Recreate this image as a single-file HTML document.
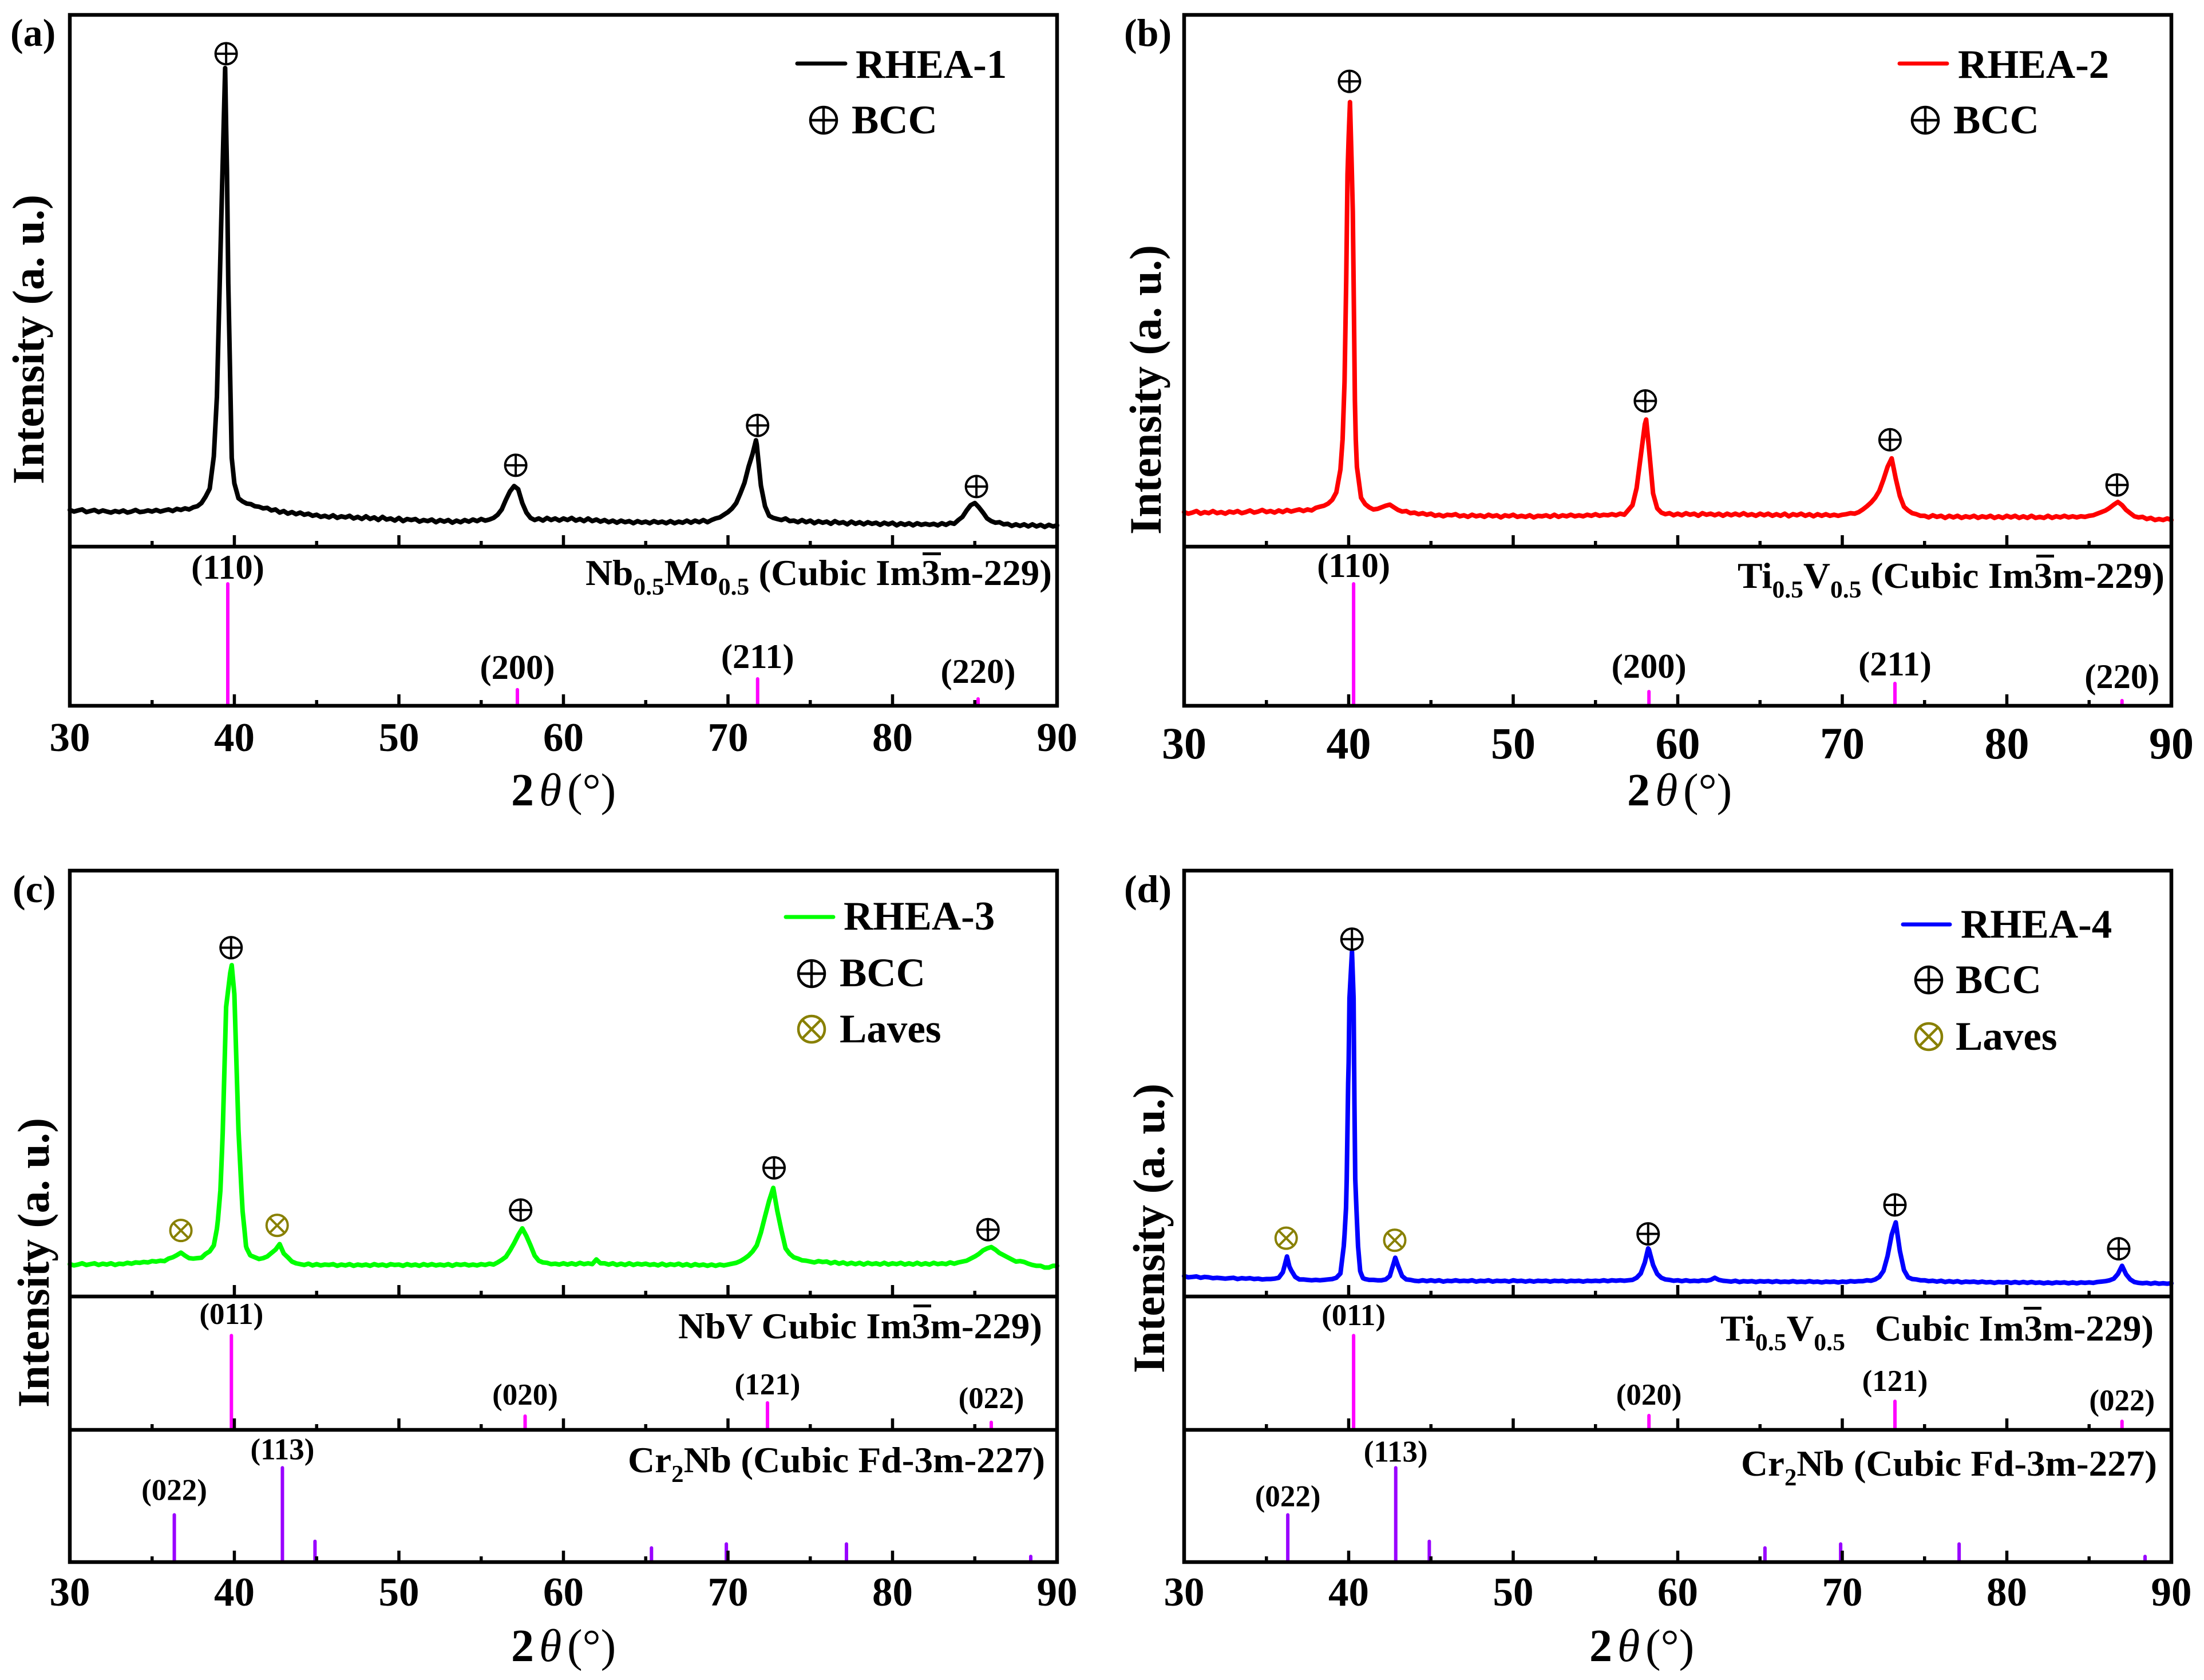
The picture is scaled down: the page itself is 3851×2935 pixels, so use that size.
<!DOCTYPE html>
<html lang="en">
<head>
<meta charset="utf-8">
<title>XRD patterns of RHEA-1 to RHEA-4</title>
<style>
html,body{margin:0;padding:0;background:#fff}
svg{display:block}
text{font-family:"Liberation Serif",serif;font-weight:bold;fill:#000}
</style>
</head>
<body>
<svg id="figure" xmlns="http://www.w3.org/2000/svg" width="3851" height="2935" viewBox="0 0 3851 2935">
  <rect x="0" y="0" width="3851" height="2935" fill="#fff"/>
  <g id="marks"></g>

  <text x="18" y="80" font-size="68">(a)</text>
  <text x="1964" y="80" font-size="68">(b)</text>
  <text x="22" y="1576" font-size="68">(c)</text>
  <text x="1964" y="1576" font-size="68">(d)</text>

  <text transform="translate(76,846) rotate(-90)" font-size="78" textLength="506" lengthAdjust="spacingAndGlyphs">Intensity (a. u.)</text>
  <text transform="translate(2028,934) rotate(-90)" font-size="78" textLength="506" lengthAdjust="spacingAndGlyphs">Intensity (a. u.)</text>
  <text transform="translate(85,2459) rotate(-90)" font-size="78" textLength="506" lengthAdjust="spacingAndGlyphs">Intensity (a. u.)</text>
  <text transform="translate(2034,2399) rotate(-90)" font-size="78" textLength="506" lengthAdjust="spacingAndGlyphs">Intensity (a. u.)</text>

  <text y="1407" font-size="80"><tspan x="893">2</tspan><tspan x="942" font-style="italic" font-weight="normal">θ</tspan><tspan x="991" font-weight="normal">(°)</tspan></text>
  <text y="1407" font-size="80"><tspan x="2843">2</tspan><tspan x="2892" font-style="italic" font-weight="normal">θ</tspan><tspan x="2941" font-weight="normal">(°)</tspan></text>
  <text y="2902" font-size="80"><tspan x="893">2</tspan><tspan x="942" font-style="italic" font-weight="normal">θ</tspan><tspan x="991" font-weight="normal">(°)</tspan></text>
  <text y="2902" font-size="80"><tspan x="2777">2</tspan><tspan x="2826" font-style="italic" font-weight="normal">θ</tspan><tspan x="2875" font-weight="normal">(°)</tspan></text>

  <g>
    <line x1="1393" y1="111" x2="1477" y2="111" stroke="#000" stroke-width="7" stroke-linecap="round"/>
    <text x="1495" y="136" font-size="71">RHEA-1</text>
    <text x="1488" y="233" font-size="71">BCC</text>
  </g>
  <g>
    <line x1="3319" y1="111" x2="3402" y2="111" stroke="#ff0000" stroke-width="7" stroke-linecap="round"/>
    <text x="3421" y="136" font-size="71">RHEA-2</text>
    <text x="3413" y="233" font-size="71">BCC</text>
  </g>
  <g>
    <line x1="1373" y1="1602" x2="1456" y2="1602" stroke="#00ff00" stroke-width="7" stroke-linecap="round"/>
    <text x="1474" y="1624" font-size="71">RHEA-3</text>
    <text x="1467" y="1723" font-size="71">BCC</text>
    <text x="1467" y="1821" font-size="71">Laves</text>
  </g>
  <g>
    <line x1="3325" y1="1615" x2="3407" y2="1615" stroke="#0000ff" stroke-width="7" stroke-linecap="round"/>
    <text x="3426" y="1638" font-size="71">RHEA-4</text>
    <text x="3417" y="1735" font-size="71">BCC</text>
    <text x="3417" y="1834" font-size="71">Laves</text>
  </g>

  <text x="1023" y="1022" font-size="63" textLength="815" lengthAdjust="spacingAndGlyphs">Nb<tspan font-size="42" dy="17">0.5</tspan><tspan dy="-17">Mo</tspan><tspan font-size="42" dy="17">0.5</tspan><tspan dy="-17"> (Cubic Im3m-229)</tspan></text>
  <rect x="1612" y="965" width="32" height="5" fill="#000"/>
  <text x="3036" y="1027" font-size="63" textLength="746" lengthAdjust="spacingAndGlyphs">Ti<tspan font-size="42" dy="17">0.5</tspan><tspan dy="-17">V</tspan><tspan font-size="42" dy="17">0.5</tspan><tspan dy="-17"> (Cubic Im3m-229)</tspan></text>
  <rect x="3558" y="969" width="31" height="5" fill="#000"/>
  <text x="1185" y="2338" font-size="64" textLength="636" lengthAdjust="spacingAndGlyphs">NbV Cubic Im3m-229)</text>
  <rect x="1596" y="2279" width="31" height="5" fill="#000"/>
  <text x="1097" y="2572" font-size="64" textLength="729" lengthAdjust="spacingAndGlyphs">Cr<tspan font-size="42" dy="17">2</tspan><tspan dy="-17">Nb (Cubic Fd-3m-227)</tspan></text>
  <text x="3006" y="2342" font-size="63" textLength="218" lengthAdjust="spacingAndGlyphs">Ti<tspan font-size="42" dy="17">0.5</tspan><tspan dy="-17">V</tspan><tspan font-size="42" dy="17">0.5</tspan></text>
  <text x="3276" y="2342" font-size="64" textLength="487" lengthAdjust="spacingAndGlyphs">Cubic Im3m-229)</text>
  <rect x="3536" y="2283" width="31" height="5" fill="#000"/>
  <text x="3042" y="2578" font-size="64" textLength="727" lengthAdjust="spacingAndGlyphs">Cr<tspan font-size="42" dy="17">2</tspan><tspan dy="-17">Nb (Cubic Fd-3m-227)</tspan></text>
</svg>

<script>
// Shared axis ticks
const majorTicks = [30, 40, 50, 60, 70, 80, 90];
const minorTicks = [35, 45, 55, 65, 75, 85];

// Shared 2-theta sampling (degrees); every series below has one reading per entry
const gridTheta = [
  30,30.25,30.5,30.75,31,31.25,31.5,31.75,32,32.25,32.5,32.75,
  33,33.25,33.5,33.75,34,34.25,34.5,34.75,35,35.25,35.5,35.75,
  36,36.25,36.5,36.75,37,37.25,37.5,37.75,38,38.25,38.5,38.75,
  39,39.25,39.5,39.75,40,40.25,40.5,40.75,41,41.25,41.5,41.75,
  42,42.25,42.5,42.75,43,43.25,43.5,43.75,44,44.25,44.5,44.75,
  45,45.25,45.5,45.75,46,46.25,46.5,46.75,47,47.25,47.5,47.75,
  48,48.25,48.5,48.75,49,49.25,49.5,49.75,50,50.25,50.5,50.75,
  51,51.25,51.5,51.75,52,52.25,52.5,52.75,53,53.25,53.5,53.75,
  54,54.25,54.5,54.75,55,55.25,55.5,55.75,56,56.25,56.5,56.75,
  57,57.25,57.5,57.75,58,58.25,58.5,58.75,59,59.25,59.5,59.75,
  60,60.25,60.5,60.75,61,61.25,61.5,61.75,62,62.25,62.5,62.75,
  63,63.25,63.5,63.75,64,64.25,64.5,64.75,65,65.25,65.5,65.75,
  66,66.25,66.5,66.75,67,67.25,67.5,67.75,68,68.25,68.5,68.75,
  69,69.25,69.5,69.75,70,70.25,70.5,70.75,71,71.25,71.5,71.75,
  72,72.25,72.5,72.75,73,73.25,73.5,73.75,74,74.25,74.5,74.75,
  75,75.25,75.5,75.75,76,76.25,76.5,76.75,77,77.25,77.5,77.75,
  78,78.25,78.5,78.75,79,79.25,79.5,79.75,80,80.25,80.5,80.75,
  81,81.25,81.5,81.75,82,82.25,82.5,82.75,83,83.25,83.5,83.75,
  84,84.25,84.5,84.75,85,85.25,85.5,85.75,86,86.25,86.5,86.75,
  87,87.25,87.5,87.75,88,88.25,88.5,88.75,89,89.25,89.5,89.75,
  90
];

// RHEA-1 intensity (% of the upper plot height)
const intensityA = [
  6.9,6.6,6.8,7.0,6.5,6.7,6.9,6.5,6.8,6.6,6.4,6.7,
  6.5,6.8,6.4,6.6,6.9,6.5,6.6,6.8,6.6,6.9,6.6,6.8,
  7.0,6.7,7.1,6.9,7.2,7.0,7.4,7.6,8.2,9.4,10.9,17,
  36,67,79,31,11.9,9.1,8.5,8.1,8.0,7.6,7.5,7.2,
  7.3,6.8,7.0,6.4,6.7,6.2,6.5,6.1,6.4,6.0,6.2,5.8,
  6.0,5.6,5.8,5.5,5.9,5.4,5.7,5.5,5.8,5.3,5.6,5.2,
  5.7,5.2,5.5,5.0,5.6,5.1,5.3,4.9,5.4,4.8,5.2,5.0,
  5.2,4.7,5.0,4.8,5.1,4.6,5.0,4.7,5.0,4.5,4.9,4.6,
  5.0,4.7,5.1,4.8,5.2,4.9,5.1,5.4,6.0,7.0,8.8,10.4,
  11.4,10.8,8.2,6.4,5.4,5.0,5.3,4.9,5.4,5.0,5.3,4.9,
  5.3,5.0,5.4,4.9,5.2,4.8,5.3,4.8,5.1,4.7,5.0,4.6,
  4.9,4.5,4.9,4.6,4.8,4.4,4.8,4.5,4.7,4.4,4.8,4.5,
  4.7,4.4,4.8,4.4,4.7,4.5,4.9,4.5,4.9,4.6,5.0,4.6,
  5.0,5.3,5.5,6.0,6.5,7.2,8.2,10,12,15,17.5,19.2,
  11.5,7.6,5.8,5.4,5.2,5.0,5.3,4.8,4.9,4.6,5.0,4.6,
  4.9,4.4,4.8,4.5,4.7,4.3,4.8,4.4,4.6,4.2,4.7,4.3,
  4.6,4.2,4.6,4.3,4.5,4.1,4.5,4.2,4.5,4.0,4.4,4.1,
  4.4,4.0,4.4,4.1,4.3,4.1,4.3,4.0,4.4,4.1,4.5,4.3,
  5.0,5.6,6.8,7.8,8.2,7.4,6.4,5.3,4.8,4.5,4.6,4.2,
  4.3,3.9,4.2,3.9,4.2,3.8,4.2,3.8,4.1,3.7,4.1,3.8,
  4.0
];
const detailThetaA = [38.94, 39.11, 39.44, 39.55, 39.63, 39.84, 71.7];
const detailIntensityA = [28.2, 49.5, 90, 70.7, 49.5, 16.7, 20];

// RHEA-2 intensity
const intensityB = [
  6.5,6.2,6.4,6.7,6.2,6.5,6.3,6.7,6.3,6.5,6.2,6.6,
  6.4,6.7,6.3,6.5,6.8,6.4,6.6,6.9,6.5,6.7,6.4,6.8,
  6.5,6.9,6.6,6.8,7.0,6.7,7.0,6.8,7.3,7.5,7.7,8.1,
  8.8,10.2,14.5,31,77,63,15,9.2,8.0,7.4,7.0,7.1,
  7.4,7.7,7.9,7.4,6.9,6.6,6.7,6.3,6.4,6.1,6.3,6.0,
  6.2,5.8,6.0,5.7,6.0,5.9,6.1,5.7,5.9,5.6,6.0,5.7,
  5.9,5.6,6.0,5.7,5.9,5.5,5.9,5.7,6.0,5.6,5.8,5.6,
  5.9,5.5,5.8,5.7,5.9,5.6,6.0,5.6,5.9,5.7,6.0,5.7,
  5.9,5.7,6.0,5.8,6.1,5.8,6.0,5.9,6.1,5.9,6.2,6.0,
  6.9,7.8,11,17,23,18.5,10,7.2,6.4,6.1,6.3,5.9,
  6.2,5.9,6.3,6.0,6.2,5.8,6.3,6.0,6.2,5.9,6.2,5.8,
  6.2,5.9,6.2,5.9,6.3,5.9,6.1,5.8,6.2,5.9,6.2,5.8,
  6.1,5.8,6.2,5.7,6.1,5.9,6.2,5.8,6.1,5.7,6.1,5.8,
  6.1,5.8,6.0,5.8,6.0,6.1,6.3,6.2,6.5,7.0,7.6,8.3,
  9.2,10.5,12.6,15,16.6,12.8,9.5,7.5,6.8,6.3,6.1,5.8,
  5.8,5.5,5.9,5.6,5.8,5.4,5.8,5.5,5.8,5.4,5.7,5.5,
  5.8,5.4,5.7,5.5,5.8,5.4,5.7,5.4,5.8,5.5,5.8,5.4,
  5.7,5.4,5.8,5.4,5.6,5.4,5.8,5.4,5.7,5.5,5.8,5.5,
  5.7,5.5,5.7,5.6,5.8,5.9,6.2,6.5,6.8,7.3,7.9,8.4,
  7.8,6.9,6.3,5.7,5.5,5.6,5.2,5.4,5.0,5.2,5.0,5.3,
  5.0
];
const detailThetaB = [39.63, 39.85, 39.93, 40.08, 40.18, 40.3, 40.38, 40.43, 58.08];
const detailIntensityB = [20.2, 50, 70, 83.6, 72, 50, 27.4, 20.2, 23.9];

// RHEA-3 intensity
const intensityC = [
  7.6,7.3,7.5,7.8,7.4,7.6,7.8,7.4,7.7,7.5,7.8,7.4,
  7.7,7.6,7.9,7.7,8.0,7.9,8.1,8.0,8.3,8.2,8.4,8.3,
  8.9,9.2,9.7,10.3,9.6,9.0,8.9,9.0,9.1,10,10.6,12,
  18,34,68,76,71,39,20,11.3,9.6,9.2,8.8,9.0,
  9.4,10.2,11,12.3,10.1,9.2,8.2,7.8,7.6,7.4,7.7,7.3,
  7.6,7.3,7.5,7.4,7.6,7.2,7.5,7.3,7.6,7.2,7.5,7.3,
  7.5,7.2,7.6,7.3,7.5,7.2,7.6,7.4,7.5,7.2,7.6,7.3,
  7.5,7.2,7.6,7.3,7.6,7.3,7.5,7.3,7.6,7.2,7.6,7.4,
  7.6,7.3,7.5,7.3,7.6,7.4,7.7,7.5,8.0,8.6,9.3,10.8,
  12.5,14.4,16,14.2,12,9.6,8.4,8.0,7.9,7.6,7.7,7.5,
  7.8,7.5,7.8,7.5,7.9,7.6,7.8,7.6,8.7,7.8,7.8,7.5,
  7.8,7.4,7.7,7.4,7.8,7.4,7.7,7.5,7.7,7.4,7.6,7.3,
  7.7,7.3,7.6,7.4,7.7,7.3,7.6,7.2,7.6,7.3,7.5,7.2,
  7.5,7.2,7.5,7.3,7.5,7.7,7.9,8.3,8.9,9.6,10.6,12.0,
  15,18.8,22.5,25.5,20,15.5,11.3,10,9.2,8.9,8.5,8.4,
  8.2,8.0,8.3,8.1,8.2,7.8,8.1,7.7,8.0,7.6,7.9,7.6,
  7.9,7.5,7.9,7.6,7.8,7.5,7.9,7.5,7.8,7.6,7.9,7.5,
  7.8,7.5,7.9,7.5,7.8,7.5,7.9,7.6,7.8,7.6,8.0,7.7,
  8.0,8.2,8.4,8.9,9.4,10,10.8,11.3,11.6,11,10.2,9.7,
  9.2,8.7,8.2,8.3,8.1,7.7,7.4,7.2,7.2,6.8,6.8,7.2,
  7.2
];
const detailThetaC = [38.94, 39.15, 39.29, 39.43, 39.84, 40.43, 40.61, 40.71, 40.96];
const detailIntensityC = [15.9, 24.9, 38.3, 58, 77.8, 24.9, 15.9, 11.8, 9.7];

// RHEA-4 intensity
const intensityD = [
  4.8,4.5,4.6,4.7,4.4,4.6,4.5,4.3,4.4,4.3,4.2,4.3,
  4.4,4.1,4.3,4.2,4.3,4.1,4.2,4.0,4.1,4.1,4.2,4.4,
  5.7,9.4,6.2,4.6,4.0,4.0,3.9,3.8,3.9,3.8,3.9,4.0,
  4.1,4.4,5.4,14.5,55,75.5,18,5.4,4.1,3.9,3.9,3.8,
  3.8,4.0,4.8,8,7.2,4.8,4.0,3.9,3.7,3.6,3.8,3.6,
  3.8,3.6,3.8,3.5,3.7,3.6,3.8,3.6,3.7,3.6,3.8,3.5,
  3.7,3.6,3.8,3.5,3.7,3.6,3.7,3.5,3.8,3.6,3.7,3.5,
  3.7,3.5,3.7,3.6,3.7,3.5,3.7,3.6,3.7,3.5,3.7,3.6,
  3.7,3.5,3.7,3.6,3.7,3.6,3.8,3.6,3.8,3.7,3.8,3.7,
  3.8,3.9,4.4,5.4,8,11,7.4,5.3,4.4,4.0,3.9,3.7,
  3.8,3.6,3.8,3.6,3.7,3.6,3.8,3.7,3.9,4.4,3.9,3.7,
  3.6,3.5,3.7,3.4,3.6,3.5,3.6,3.4,3.6,3.5,3.6,3.4,
  3.6,3.4,3.5,3.4,3.6,3.4,3.5,3.4,3.6,3.4,3.5,3.3,
  3.5,3.4,3.5,3.3,3.5,3.4,3.6,3.5,3.6,3.6,3.8,3.7,
  4,4.6,6,9.5,14.5,17.4,10.7,6.2,4.5,4.1,4,3.8,
  3.8,3.6,3.7,3.5,3.7,3.4,3.6,3.4,3.6,3.3,3.5,3.4,
  3.5,3.3,3.5,3.3,3.4,3.2,3.4,3.3,3.4,3.2,3.4,3.2,
  3.4,3.2,3.4,3.2,3.3,3.1,3.3,3.1,3.3,3.2,3.3,3.1,
  3.3,3.1,3.3,3.2,3.3,3.2,3.4,3.5,3.6,3.8,4.2,5.3,
  7.2,5.2,4.0,3.4,3.2,3.1,3.2,3.0,3.2,3.0,3.1,3.0,
  3.1
];
const detailThetaD = [36.12, 36.4, 39.7, 39.84, 39.88, 39.97, 40.05, 40.2, 40.3, 40.35, 40.4, 40.47, 40.57, 40.7, 40.87, 42.63, 42.83, 58.2, 87];
const detailIntensityD = [7.4, 7, 11.8, 20.8, 27.6, 50, 70, 81, 70, 45, 27.6, 20.8, 11.8, 6, 4.3, 6.5, 9.1, 11.3, 7.2];

// Reference sticks (2-theta, relative height in % of the sub-plot)
const refThetaA = [39.6, 57.2, 71.8, 85.2];
const refValueA = [77.7, 11.2, 18, 5.4];
const refLabelsA = ['(110)', '(200)', '(211)', '(220)'];

const refThetaB = [40.3, 58.25, 73.2, 87];
const refValueB = [77.7, 10, 15.1, 4.3];
const refLabelsB = ['(110)', '(200)', '(211)', '(220)'];

const refThetaC = [39.82, 57.67, 72.4, 86];
const refValueC = [72, 11.6, 21.5, 6.9];
const refLabelsC = ['(011)', '(020)', '(121)', '(022)'];

const lavesThetaC = [36.35, 42.92, 44.9, 65.35, 69.9, 77.2, 88.4];
const lavesValueC = [37, 72.6, 17, 12, 15, 15, 5.6];
const lavesLabelsC = ['(022)', '(113)', '', '', '', '', ''];

const refThetaD = [40.3, 58.25, 73.2, 87];
const refValueD = [72, 12, 22.7, 7.7];
const refLabelsD = ['(011)', '(020)', '(121)', '(022)'];

const lavesThetaD = [36.3, 42.86, 44.9, 65.3, 69.9, 77.1, 88.4];
const lavesValueD = [37, 72.6, 17, 12, 15, 15, 5.6];
const lavesLabelsD = ['(022)', '(113)', '', '', '', '', ''];

// Phase annotations on the patterns (2-theta, height in % of the upper plot)
const bccThetaA = [39.5, 57.1, 71.8, 85.1];
const bccLevelA = [92.7, 15.3, 22.8, 11.3];
const bccThetaB = [40.05, 58.03, 72.9, 86.7];
const bccLevelB = [87.5, 27.4, 20.1, 11.6];
const bccThetaC = [39.8, 57.4, 72.8, 85.8];
const bccLevelC = [81.9, 20.3, 30.2, 15.7];
const bccThetaD = [40.2, 58.2, 73.2, 86.8];
const bccLevelD = [83.9, 14.7, 21.5, 11.2];
const lavesMarkThetaC = [36.75, 42.6];
const lavesMarkLevelC = [15.5, 16.7];
const lavesMarkThetaD = [36.2, 42.8];
const lavesMarkLevelD = [13.7, 13.2];

const SVGNS = 'http://www.w3.org/2000/svg';
const root = document.getElementById('marks');

function make(tag, attrs, parent) {
  const el = document.createElementNS(SVGNS, tag);
  for (const k in attrs) el.setAttribute(k, attrs[k]);
  (parent || root).appendChild(el);
  return el;
}

function xScale(panel, theta) {
  return panel.left + (theta - 30) / 60 * (panel.right - panel.left);
}
function yScale(box, v) {
  return box.bottom - v / 100 * (box.bottom - box.top);
}

function drawCurve(panel, values, detailTheta, detailValue, color, width, name) {
  const box = panel.boxes[0];
  const merged = gridTheta.map((t, i) => [t, values[i]])
    .concat(detailTheta.map((t, i) => [t, detailValue[i]]))
    .sort((a, b) => a[0] - b[0]);
  const pts = merged.map((p) => xScale(panel, p[0]).toFixed(1) + ',' + yScale(box, p[1]).toFixed(1)).join(' ');
  const el = make('polyline', {points: pts, fill: 'none', stroke: color, 'stroke-width': width, 'stroke-linejoin': 'round', 'stroke-linecap': 'round'});
  
  
}

function drawSticks(panel, box, thetas, values, labels, gaps, color, width, fontSize, name) {
  thetas.forEach((t, i) => {
    const x = xScale(panel, t);
    const top = yScale(box, values[i]);
    const stick = make('line', {x1: x, x2: x, y1: box.bottom, y2: top + width / 2, stroke: color, 'stroke-width': width, 'stroke-linecap': 'round'});
    
    
    if (labels[i]) {
      const tx = make('text', {x: x, y: top - gaps[i], 'font-size': fontSize, 'text-anchor': 'middle'});
      tx.textContent = labels[i];
      
      
    }
  });
}

function drawSymbol(cx, cy, r, kind, color, width) {
  const g = make('g', {stroke: color, 'stroke-width': width, fill: 'none'});
  
  
  make('circle', {cx: cx, cy: cy, r: r}, g);
  if (kind === 'plus') {
    make('line', {x1: cx - r, x2: cx + r, y1: cy, y2: cy}, g);
    make('line', {x1: cx, x2: cx, y1: cy - r, y2: cy + r}, g);
  } else {
    const d = r * 0.66;
    make('line', {x1: cx - d, x2: cx + d, y1: cy - d, y2: cy + d}, g);
    make('line', {x1: cx - d, x2: cx + d, y1: cy + d, y2: cy - d}, g);
  }
}

function drawMarkers(panel, thetas, levels, kind, color) {
  thetas.forEach((t, i) => drawSymbol(xScale(panel, t), yScale(panel.boxes[0], levels[i]), 18.5, kind, color, 4));
}

function drawAxes(panel, name, tickFont, tickBaseline) {
  const frameTop = panel.boxes[0].top;
  const frameBottom = panel.boxes[panel.boxes.length - 1].bottom;
  panel.boxes.forEach((box) => {
    majorTicks.concat(minorTicks).forEach((t) => {
      const isMajor = majorTicks.indexOf(t) >= 0;
      const x = xScale(panel, t);
      const tick = make('line', {x1: x, x2: x, y1: box.bottom, y2: box.bottom - (isMajor ? 20 : 10), stroke: '#000', 'stroke-width': 5.5});
      
      
    });
  });
  panel.boxes.slice(0, -1).forEach((box) => {
    const divider = make('line', {x1: panel.left, x2: panel.right, y1: box.bottom, y2: box.bottom, stroke: '#000', 'stroke-width': 6.5});
    
    
  });
  const frame = make('rect', {x: panel.left, y: frameTop, width: panel.right - panel.left, height: frameBottom - frameTop, fill: 'none', stroke: '#000', 'stroke-width': 6.5});
  
  
  majorTicks.forEach((t) => {
    const label = make('text', {x: xScale(panel, t), y: tickBaseline, 'font-size': tickFont, 'text-anchor': 'middle'});
    label.textContent = String(t);
    
    
  });
}

const panelA = {left: 122, right: 1847, boxes: [{top: 26, bottom: 955}, {top: 955, bottom: 1233}]};
const panelB = {left: 2069, right: 3794, boxes: [{top: 26, bottom: 955}, {top: 955, bottom: 1233}]};
const panelC = {left: 122, right: 1847, boxes: [{top: 1521, bottom: 2265}, {top: 2265, bottom: 2498}, {top: 2498, bottom: 2729}]};
const panelD = {left: 2069, right: 3794, boxes: [{top: 1521, bottom: 2265}, {top: 2265, bottom: 2498}, {top: 2498, bottom: 2729}]};

drawCurve(panelA, intensityA, detailThetaA, detailIntensityA, '#000000', 8, 'rhea-1-pattern');
drawCurve(panelB, intensityB, detailThetaB, detailIntensityB, '#ff0000', 8, 'rhea-2-pattern');
drawCurve(panelC, intensityC, detailThetaC, detailIntensityC, '#00ff00', 8, 'rhea-3-pattern');
drawCurve(panelD, intensityD, detailThetaD, detailIntensityD, '#0000ff', 8, 'rhea-4-pattern');

drawSticks(panelA, panelA.boxes[1], refThetaA, refValueA, refLabelsA, [6, 16, 16, 25], '#ff00ff', 6, 60.5, 'nb-mo-reference');
drawSticks(panelB, panelB.boxes[1], refThetaB, refValueB, refLabelsB, [9, 21, 11, 19], '#ff00ff', 6, 60.5, 'ti-v-reference-b');
drawSticks(panelC, panelC.boxes[1], refThetaC, refValueC, refLabelsC, [17, 17, 12, 22], '#ff00ff', 6, 53, 'nbv-reference');
drawSticks(panelC, panelC.boxes[2], lavesThetaC, lavesValueC, lavesLabelsC, [23, 12, 0, 0, 0, 0, 0], '#9900ff', 6, 53, 'cr2nb-reference-c');
drawSticks(panelD, panelD.boxes[1], refThetaD, refValueD, refLabelsD, [15, 16, 15, 16], '#ff00ff', 6, 53, 'ti-v-reference-d');
drawSticks(panelD, panelD.boxes[2], lavesThetaD, lavesValueD, lavesLabelsD, [12, 8, 0, 0, 0, 0, 0], '#9900ff', 6, 53, 'cr2nb-reference-d');

drawMarkers(panelA, bccThetaA, bccLevelA, 'plus', '#000');
drawMarkers(panelB, bccThetaB, bccLevelB, 'plus', '#000');
drawMarkers(panelC, bccThetaC, bccLevelC, 'plus', '#000');
drawMarkers(panelD, bccThetaD, bccLevelD, 'plus', '#000');
drawMarkers(panelC, lavesMarkThetaC, lavesMarkLevelC, 'cross', '#888000');
drawMarkers(panelD, lavesMarkThetaD, lavesMarkLevelD, 'cross', '#888000');

drawAxes(panelA, 'panel-a', 71, 1312);
drawAxes(panelB, 'panel-b', 78, 1325);
drawAxes(panelC, 'panel-c', 71, 2805);
drawAxes(panelD, 'panel-d', 71, 2805);

// Legend symbols
drawSymbol(1439, 210, 23, 'plus', '#000', 4.5);
drawSymbol(3364, 210, 23, 'plus', '#000', 4.5);
drawSymbol(1418, 1701, 23, 'plus', '#000', 4.5);
drawSymbol(1418, 1798, 23, 'cross', '#888000', 4.5);
drawSymbol(3370, 1712, 23, 'plus', '#000', 4.5);
drawSymbol(3370, 1811, 23, 'cross', '#888000', 4.5);
</script>
</body>
</html>
